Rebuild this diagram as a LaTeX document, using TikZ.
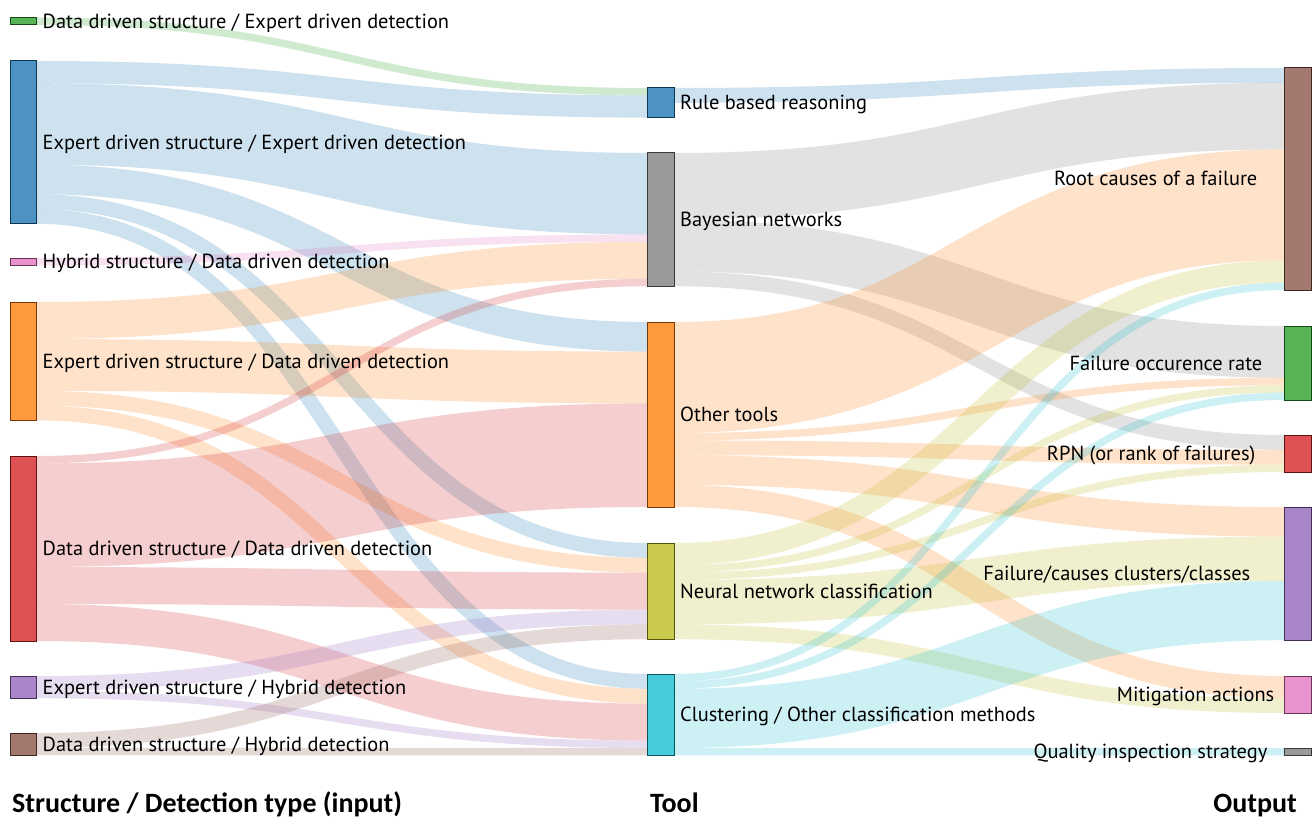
\documentclass[tikz,border=0pt]{standalone}
\usepackage{fontspec}
\setmainfont{PT Sans}
\newfontfamily\ttlfont{Carlito}
\usetikzlibrary{calc}
\definecolor{cBlue}{RGB}{31,119,180}
\definecolor{cOrange}{RGB}{255,127,14}
\definecolor{cGreen}{RGB}{44,160,44}
\definecolor{cRed}{RGB}{214,39,40}
\definecolor{cPurple}{RGB}{148,103,189}
\definecolor{cBrown}{RGB}{140,86,75}
\definecolor{cPink}{RGB}{227,119,194}
\definecolor{cGray}{RGB}{127,127,127}
\definecolor{cOlive}{RGB}{188,189,34}
\definecolor{cCyan}{RGB}{23,190,207}
\def\un{7.4}
\newcommand\band[6]{%
  \pgfmathsetmacro\bw{#6*\un}%
  \coordinate (ba) at ($(#2.north east)+(0,{(#3+#6/2)*\un})$);
  \coordinate (bb) at ($(#4.north west)+(0,{(#5+#6/2)*\un})$);
  \coordinate (bm) at ($(ba)!0.5!(bb)$);
  \draw[bandline, line width=\bw pt, draw=#1] (ba) .. controls (bm |- ba) and (bm |- bb) .. (bb);
}
\newcommand\nd[5]{%
  \pgfmathsetmacro\nh{#5*\un}%
  \node[box=#2, minimum height=\nh pt] (#1) at (#3,#4) {};
}
\tikzset{
  box/.style={rectangle, inner sep=0pt, outer sep=0pt, minimum width=26.5pt,
    fill=#1!80!white, draw=#1!45!black, line width=1pt, anchor=north west},
  bandline/.style={draw opacity=0.22, line cap=butt},
  lbl/.style={inner sep=0pt, font=\fontsize{20.4}{23}\selectfont, text height=14pt, text depth=0pt},
  ttl/.style={inner sep=0pt, font=\ttlfont\bfseries\fontsize{28}{32}\selectfont, text height=18pt, text depth=0pt},
}
\begin{document}
\begin{tikzpicture}[x=1pt, y=-1pt]
\fill[white] (0,0) rectangle (1313,818);
\useasboundingbox (0,0) rectangle (1313,818);
% ---- nodes (defined first for names)
\nd{L1}{cGreen}{10}{17.5}{1}
\nd{L2}{cBlue}{10}{61}{22}
\nd{L3}{cPink}{10}{258}{1}
\nd{L4}{cOrange}{10}{302}{16}
\nd{L5}{cRed}{10}{456}{25}
\nd{L6}{cPurple}{10}{676}{3}
\nd{L7}{cBrown}{10}{733}{3}
\nd{T1}{cBlue}{647.5}{88}{4}
\nd{T2}{cGray}{647.5}{153}{18}
\nd{T3}{cOrange}{647.5}{322}{25}
\nd{T4}{cOlive}{647.5}{543}{13}
\nd{T5}{cCyan}{647.5}{674}{11}
\nd{R1}{cBrown}{1284.5}{68}{30}
\nd{R2}{cGreen}{1284.5}{326}{10}
\nd{R3}{cRed}{1284.5}{435}{5}
\nd{R4}{cPurple}{1284.5}{507}{18}
\nd{R5}{cPink}{1284.5}{676}{5}
\nd{R6}{cGray}{1284.5}{748}{1}
% ---- bands: input -> tool
\band{cGreen}{L1}{0}{T1}{0}{1}
\band{cBlue}{L2}{0}{T1}{1}{3}
\band{cBlue}{L2}{3}{T2}{0}{11}
\band{cBlue}{L2}{14}{T3}{0}{4}
\band{cBlue}{L2}{18}{T4}{0}{2}
\band{cBlue}{L2}{20}{T5}{0}{2}
\band{cPink}{L3}{0}{T2}{11}{1}
\band{cOrange}{L4}{0}{T2}{12}{5}
\band{cOrange}{L4}{5}{T3}{4}{7}
\band{cOrange}{L4}{12}{T4}{2}{2}
\band{cOrange}{L4}{14}{T5}{2}{2}
\band{cRed}{L5}{0}{T2}{17}{1}
\band{cRed}{L5}{1}{T3}{11}{14}
\band{cRed}{L5}{15}{T4}{4}{5}
\band{cRed}{L5}{20}{T5}{4}{5}
\band{cPurple}{L6}{0}{T4}{9}{2}
\band{cPurple}{L6}{2}{T5}{9}{1}
\band{cBrown}{L7}{0}{T4}{11}{2}
\band{cBrown}{L7}{2}{T5}{10}{1}
% ---- bands: tool -> output
\band{cBlue}{T1}{0}{R1}{0}{2}
\band{cGray}{T2}{0}{R1}{2}{9}
\band{cGray}{T2}{9}{R2}{0}{7}
\band{cGray}{T2}{16}{R3}{0}{2}
\band{cOrange}{T3}{0}{R1}{11}{15}
\band{cOrange}{T3}{15}{R2}{7}{1}
\band{cOrange}{T3}{16}{R3}{2}{2}
\band{cOrange}{T3}{18}{R4}{0}{4}
\band{cOrange}{T3}{22}{R5}{0}{3}
\band{cOlive}{T4}{0}{R1}{26}{3}
\band{cOlive}{T4}{3}{R2}{8}{1}
\band{cOlive}{T4}{4}{R3}{4}{1}
\band{cOlive}{T4}{5}{R4}{4}{6}
\band{cOlive}{T4}{11}{R5}{3}{2}
\band{cCyan}{T5}{0}{R1}{29}{1}
\band{cCyan}{T5}{1}{R2}{9}{1}
\band{cCyan}{T5}{2}{R4}{10}{8}
\band{cCyan}{T5}{10}{R6}{0}{1}
% ---- redraw nodes on top of bands
\nd{L1}{cGreen}{10}{17.5}{1}
\nd{L2}{cBlue}{10}{61}{22}
\nd{L3}{cPink}{10}{258}{1}
\nd{L4}{cOrange}{10}{302}{16}
\nd{L5}{cRed}{10}{456}{25}
\nd{L6}{cPurple}{10}{676}{3}
\nd{L7}{cBrown}{10}{733}{3}
\nd{T1}{cBlue}{647.5}{88}{4}
\nd{T2}{cGray}{647.5}{153}{18}
\nd{T3}{cOrange}{647.5}{322}{25}
\nd{T4}{cOlive}{647.5}{543}{13}
\nd{T5}{cCyan}{647.5}{674}{11}
\nd{R1}{cBrown}{1284.5}{68}{30}
\nd{R2}{cGreen}{1284.5}{326}{10}
\nd{R3}{cRed}{1284.5}{435}{5}
\nd{R4}{cPurple}{1284.5}{507}{18}
\nd{R5}{cPink}{1284.5}{676}{5}
\nd{R6}{cGray}{1284.5}{748}{1}
% ---- labels
\node[lbl, anchor=west] (tL1) at ($(L1.east)+(6,0)$) {Data driven structure / Expert driven detection};
\node[lbl, anchor=west] (tL2) at ($(L2.east)+(6,0)$) {Expert driven structure / Expert driven detection};
\node[lbl, anchor=west] (tL3) at ($(L3.east)+(6,0)$) {Hybrid structure / Data driven detection};
\node[lbl, anchor=west] (tL4) at ($(L4.east)+(6,0)$) {Expert driven structure / Data driven detection};
\node[lbl, anchor=west] (tL5) at ($(L5.east)+(6,0)$) {Data driven structure / Data driven detection};
\node[lbl, anchor=west] (tL6) at ($(L6.east)+(6,0)$) {Expert driven structure / Hybrid detection};
\node[lbl, anchor=west] (tL7) at ($(L7.east)+(6,0)$) {Data driven structure / Hybrid detection};
\node[lbl, anchor=west] (tT1) at ($(T1.east)+(6,0)$) {Rule based reasoning};
\node[lbl, anchor=west] (tT2) at ($(T2.east)+(6,0)$) {Bayesian networks};
\node[lbl, anchor=west] (tT3) at ($(T3.east)+(6,0)$) {Other tools};
\node[lbl, anchor=west] (tT4) at ($(T4.east)+(6,0)$) {Neural network classification};
\node[lbl, anchor=west] (tT5) at ($(T5.east)+(6,0)$) {Clustering / Other classification methods};
\node[lbl, anchor=east] (tR1) at ($(R1.west)+(-27,0)$) {Root causes of a failure};
\node[lbl, anchor=east] (tR2) at ($(R2.west)+(-22,0)$) {Failure occurence rate};
\node[lbl, anchor=east] (tR3) at ($(R3.west)+(-29,0)$) {RPN (or rank of failures)};
\node[lbl, anchor=east] (tR4) at ($(R4.west)+(-34,0)$) {Failure/causes clusters/classes};
\node[lbl, anchor=east] (tR5) at ($(R5.west)+(-10,0)$) {Mitigation actions};
\node[lbl, anchor=east] (tR6) at ($(R6.west)+(-17,0)$) {Quality inspection strategy};
% ---- column titles
\node[ttl, anchor=west] (h1) at (12,803) {Structure / Detection type (input)};
\node[ttl, anchor=west] (h2) at (650,803) {Tool};
\node[ttl, anchor=east] (h3) at (1297,803) {Output};
\end{tikzpicture}
\end{document}
